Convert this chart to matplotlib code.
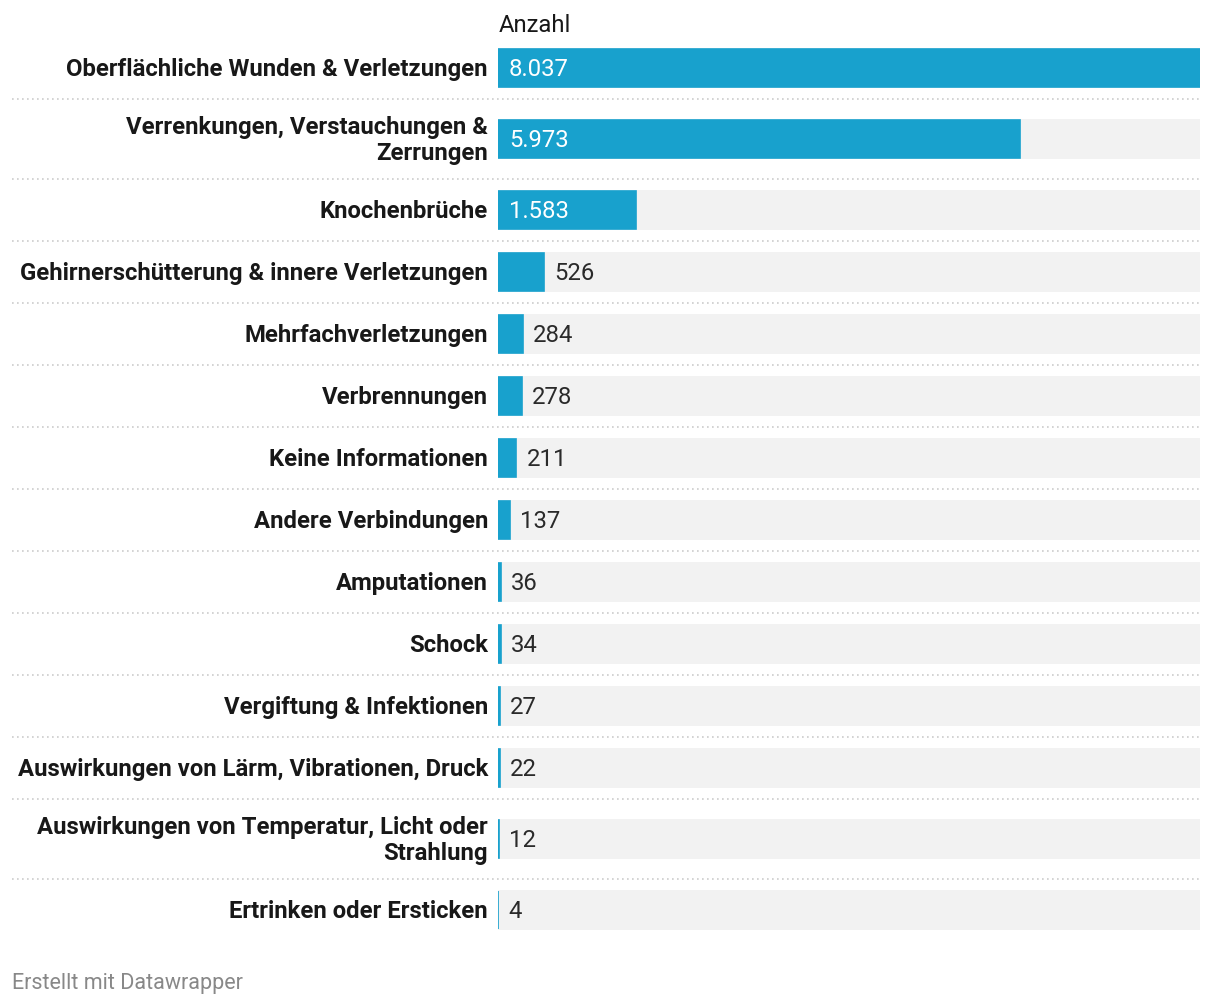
import matplotlib.pyplot as plt
import matplotlib.transforms as mtransforms

plt.rcParams['font.family'] = ['Roboto', 'DejaVu Sans']

# data
categories = [
    "Oberflächliche Wunden & Verletzungen",
    "Verrenkungen, Verstauchungen &\nZerrungen",
    "Knochenbrüche",
    "Gehirnerschütterung & innere Verletzungen",
    "Mehrfachverletzungen",
    "Verbrennungen",
    "Keine Informationen",
    "Andere Verbindungen",
    "Amputationen",
    "Schock",
    "Vergiftung & Infektionen",
    "Auswirkungen von Lärm, Vibrationen, Druck",
    "Auswirkungen von Temperatur, Licht oder\nStrahlung",
    "Ertrinken oder Ersticken",
]
values = [8037, 5973, 1583, 526, 284, 278, 211, 137, 36, 34, 27, 22, 12, 4]
column_title = "Anzahl"
footer = "Erstellt mit Datawrapper"

BAR_COLOR = "#18a1cd"
BG_COLOR = "#f2f2f2"
LABEL_COLOR = "#181818"
VALUE_COLOR = "#2a2a2a"
FS = 17.2


def fmt(v):
    return f"{v:,}".replace(",", ".")


W, H = 1220, 1006
fig = plt.figure(figsize=(W / 100, H / 100), dpi=100)
fig.patch.set_facecolor("white")

top_px, bottom_px = 37, 941
left_px, right_px = 498, 1200
ax = fig.add_axes([left_px / W, 1 - bottom_px / H,
                   (right_px - left_px) / W, (bottom_px - top_px) / H])
vmax = max(values)
ax.set_xlim(0, vmax)
ax.set_ylim(bottom_px - top_px, 0)
ax.axis("off")

# row layout: taller rows for wrapped labels
row_h = [62 + 18 * c.count("\n") for c in categories]
starts = [sum(row_h[:i]) for i in range(len(row_h))]
centers = [s + h / 2 for s, h in zip(starts, row_h)]

ax.barh(centers, [vmax] * len(values), height=40, color=BG_COLOR, zorder=1)
ax.barh(centers, values, height=38.4, color=BAR_COLOR,
        edgecolor=BAR_COLOR, linewidth=1.2, zorder=2)

lbl_tr = mtransforms.offset_copy(ax.transData, fig, x=-10, y=-1.5, units="dots")
for cat, c, v in zip(categories, centers, values):
    ax.text(0, c, cat, transform=lbl_tr, ha="right", va="center",
            fontsize=FS, fontweight="bold", color=LABEL_COLOR,
            linespacing=1.2)
    if v / vmax > 0.1:
        tr = mtransforms.offset_copy(ax.transData, fig, x=11, y=-1.5, units="dots")
        ax.text(0, c, fmt(v), transform=tr, ha="left", va="center",
                fontsize=FS, color="white")
    else:
        tr = mtransforms.offset_copy(ax.transData, fig, x=10, y=-1.5, units="dots")
        ax.text(v, c, fmt(v), transform=tr, ha="left", va="center",
                fontsize=FS, color=VALUE_COLOR)

# dotted separators between rows
sep_tr = mtransforms.blended_transform_factory(fig.transFigure, ax.transData)
for s, h in zip(starts[:-1], row_h[:-1]):
    ax.plot([12 / W, right_px / W], [s + h, s + h], transform=sep_tr,
            color="#cccccc", linestyle=(0, (1, 2)), linewidth=1.2,
            clip_on=False, zorder=0)

fig.text(499 / W, 1 - 25 / H, column_title, ha="left", va="center",
         fontsize=FS, color=LABEL_COLOR)
fig.text(12 / W, 1 - 983 / H, footer, ha="left", va="center",
         fontsize=15.5, color="#888888")

fig.savefig("out.png", dpi=100, facecolor="white")
